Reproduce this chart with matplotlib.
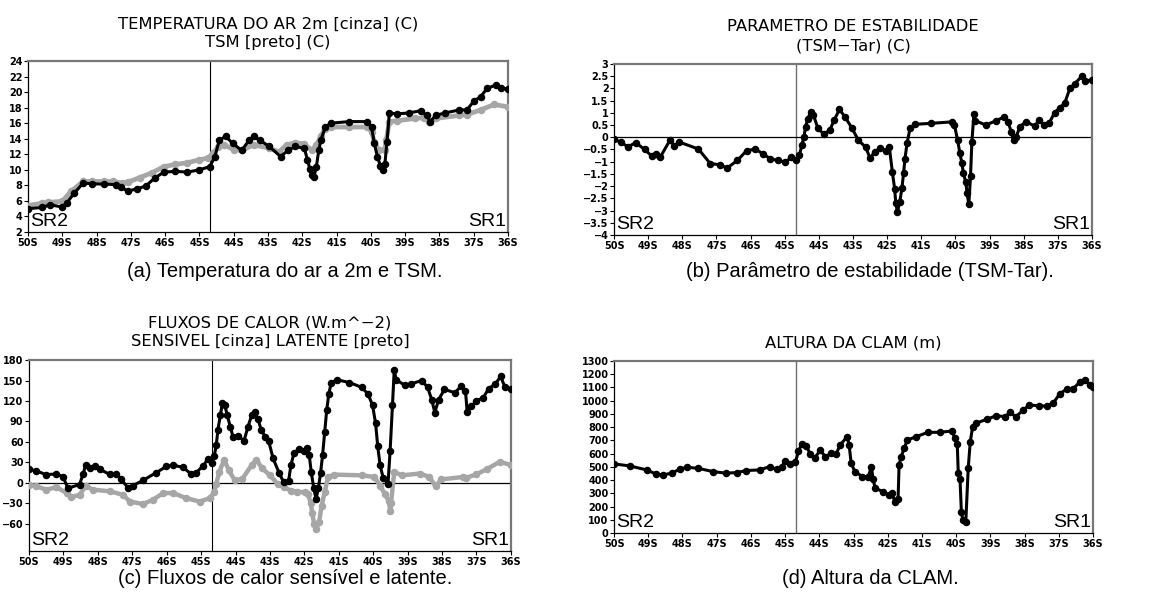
import matplotlib
matplotlib.use("Agg")
import matplotlib.pyplot as plt
from matplotlib.ticker import FuncFormatter

# limite entre as sub-regioes SR2 / SR1
limite_sr = -44.68

# (a) temperatura do ar 2m [cinza] e TSM [preto]
lat_tar = [-50.0, -49.6, -49.43, -49.0, -48.74, -48.39, -48.13, -47.78, -47.52, -47.26,
           -47.09, -46.74, -46.39, -46.04, -45.7, -45.35, -45.0, -44.74, -44.6, -44.46,
           -44.29, -44.0, -43.77, -43.42, -42.98, -42.68, -42.46, -42.2, -41.94, -41.72,
           -41.59, -41.46, -41.33, -41.16, -40.63, -40.1, -39.98, -39.9, -39.77, -39.6,
           -39.55, -39.46, -39.24, -38.72, -38.46, -38.29, -38.11, -37.42, -37.2, -36.8,
           -36.4, -36.0]
tar = [5.4, 5.7, 5.8, 5.95, 7.25, 8.5, 8.5, 8.5, 8.5, 8.3,
       8.4, 9.0, 9.6, 10.4, 10.7, 10.9, 11.3, 11.5, 12.2, 12.9,
       13.2, 12.6, 12.5, 13.2, 12.8, 12.3, 13.2, 13.5, 13.3, 12.5,
       13.2, 14.3, 15.3, 15.5, 15.5, 15.5, 14.9, 13.6, 12.5, 12.6,
       13.8, 16.2, 16.3, 16.6, 16.7, 16.1, 16.6, 17.0, 17.1, 17.7,
       18.4, 18.1]

lat_tsm = [-50.0, -49.6, -49.35, -49.0, -48.87, -48.65, -48.39, -48.13, -47.78, -47.43,
           -47.3, -47.09, -46.83, -46.57, -46.3, -46.04, -45.7, -45.35, -45.0, -44.7,
           -44.55, -44.42, -44.24, -44.03, -43.77, -43.55, -43.42, -43.24, -42.98, -42.63,
           -42.42, -42.2, -41.94, -41.85, -41.78, -41.72, -41.66, -41.59, -41.52, -41.46,
           -41.33, -41.16, -40.63, -40.1, -39.98, -39.9, -39.81, -39.72, -39.65, -39.59,
           -39.53, -39.46, -39.24, -38.9, -38.55, -38.37, -38.27, -38.11, -37.85, -37.42,
           -37.2, -37.0, -36.8, -36.6, -36.35, -36.2, -36.0]
tsm = [5.0, 5.15, 5.5, 5.2, 5.75, 7.0, 8.3, 8.2, 8.15, 8.1,
       7.8, 7.25, 7.55, 7.9, 8.95, 9.7, 9.8, 9.7, 10.0, 10.4,
       11.7, 13.8, 14.3, 13.4, 12.5, 13.8, 14.3, 13.8, 13.05, 11.7,
       12.5, 13.0, 12.75, 11.3, 10.1, 9.3, 9.1, 10.4, 12.5, 13.8,
       15.5, 16.0, 16.2, 16.2, 15.5, 13.4, 11.7, 10.5, 10.0, 10.8,
       13.6, 17.3, 17.2, 17.3, 17.6, 17.0, 16.2, 17.0, 17.3, 17.7,
       17.7, 18.8, 19.4, 20.5, 20.9, 20.5, 20.4]

# (b) parametro de estabilidade (TSM-Tar)
lat_est = [-50.0, -49.81, -49.59, -49.37, -49.1, -48.89, -48.77, -48.65, -48.36, -48.23,
           -48.1, -47.53, -47.18, -46.91, -46.69, -46.39, -46.12, -45.86, -45.64, -45.42,
           -45.2, -44.98, -44.81, -44.68, -44.57, -44.5, -44.44, -44.39, -44.33, -44.24,
           -44.16, -44.03, -43.85, -43.68, -43.55, -43.4, -43.24, -43.03, -42.85, -42.63,
           -42.5, -42.37, -42.2, -42.03, -41.94, -41.85, -41.78, -41.75, -41.7, -41.63,
           -41.57, -41.52, -41.48, -41.42, -41.33, -41.2, -40.72, -40.11, -40.03, -39.94,
           -39.87, -39.81, -39.77, -39.7, -39.66, -39.61, -39.56, -39.52, -39.46, -39.42,
           -39.11, -38.81, -38.59, -38.46, -38.37, -38.3, -38.22, -38.11, -37.94, -37.68,
           -37.55, -37.4, -37.25, -37.1, -36.95, -36.8, -36.65, -36.5, -36.3, -36.2, -36.0]
est = [-0.08, -0.2, -0.39, -0.22, -0.5, -0.78, -0.68, -0.82, -0.11, -0.37,
       -0.19, -0.48, -1.08, -1.12, -1.26, -0.95, -0.55, -0.48, -0.68, -0.88,
       -0.95, -1.02, -0.82, -0.95, -0.72, -0.32, 0.0, 0.44, 0.74, 1.05,
       0.91, 0.37, 0.12, 0.3, 0.71, 1.14, 0.84, 0.37, -0.11, -0.41,
       -0.86, -0.59, -0.45, -0.55, -0.38, -1.41, -2.13, -2.7, -3.05, -2.63,
       -2.09, -1.47, -0.89, -0.25, 0.37, 0.53, 0.57, 0.63, 0.5, -0.11,
       -0.66, -1.07, -1.47, -1.82, -2.29, -2.75, -1.6, -0.18, 0.95, 0.68,
       0.5, 0.68, 0.82, 0.64, 0.23, -0.11, 0.03, 0.44, 0.64, 0.46,
       0.7, 0.5, 0.6, 1.0, 1.2, 1.4, 2.0, 2.2, 2.5, 2.3, 2.35]

# (c) fluxos de calor: sensivel [cinza] e latente [preto]
lat_sen = [-50.0, -49.79, -49.5, -49.2, -48.9, -48.77, -48.53, -48.35, -48.14, -47.65,
           -47.27, -47.07, -46.69, -46.4, -46.1, -45.81, -45.43, -45.04, -44.75, -44.62,
           -44.56, -44.47, -44.33, -44.2, -44.02, -43.8, -43.53, -43.4, -43.22, -43.0,
           -42.78, -42.6, -42.38, -42.2, -41.98, -41.89, -41.82, -41.77, -41.72, -41.65,
           -41.57, -41.5, -41.41, -41.31, -41.13, -40.33, -39.97, -39.8, -39.66, -39.55,
           -39.5, -39.48, -39.39, -39.17, -38.64, -38.37, -38.19, -38.02, -37.39, -37.29,
           -37.0, -36.7, -36.32, -36.0]
sensivel = [-2.5, -5, -10, -6.5, -15, -21, -17.5, -5, -10, -12.5,
            -17.5, -27.5, -31, -25, -15, -15, -22.5, -27.5, -22.5, -14,
            -1.5, 16, 34, 19, 3.5, 6, 26, 34, 21, 11,
            -1.5, -6.5, -11.6, -13, -14, -17, -29, -44, -60, -67,
            -57, -34, -14, 8.6, 12, 11, 8.6, -4, -16.6, -27,
            -42, -29, 16, 11, 13.6, 8.6, -5, 5, 8.6, 7.5,
            12.5, 20, 31, 26]

lat_lat = [-50.0, -49.79, -49.5, -49.2, -49.01, -48.87, -48.53, -48.43, -48.35, -48.24,
           -48.09, -47.95, -47.66, -47.46, -47.32, -47.12, -46.98, -46.69, -46.3, -46.01,
           -45.81, -45.52, -45.28, -45.14, -44.94, -44.8, -44.68, -44.62, -44.56, -44.51,
           -44.44, -44.38, -44.31, -44.24, -44.15, -44.07, -43.93, -43.75, -43.64, -43.53,
           -43.44, -43.35, -43.25, -43.13, -43.04, -42.91, -42.73, -42.6, -42.46, -42.39,
           -42.3, -42.15, -42.02, -41.93, -41.86, -41.8, -41.73, -41.66, -41.59, -41.53,
           -41.47, -41.41, -41.35, -41.29, -41.22, -41.04, -40.69, -40.33, -40.15, -40.02,
           -39.93, -39.87, -39.8, -39.71, -39.57, -39.51, -39.44, -39.39, -39.33, -39.08,
           -38.91, -38.59, -38.42, -38.3, -38.21, -38.1, -37.93, -37.62, -37.45, -37.32,
           -37.27, -37.15, -37.0, -36.8, -36.65, -36.45, -36.3, -36.17, -36.0]
latente = [20, 17.5, 12, 13, 9, -8, -2.5, 12.5, 26.5, 21,
           25, 20, 12.5, 12.5, 5, -7.5, -4, 3.5, 15, 24,
           26, 22.5, 12.5, 15, 25, 35, 29, 39, 55, 78,
           99, 117, 114, 99, 82, 67, 68, 62, 82, 99,
           104, 94, 77, 67, 62, 36, 14, 1, 2, 26,
           44, 49, 46, 51, 41, 16, -7, -24, -7, 14,
           41, 74, 107, 130, 147, 151, 147, 140, 130, 114,
           87, 54, 26, 7, -1.5, 46, 114, 165, 151, 143,
           145, 150, 140, 122, 103, 122, 137, 132, 142, 135,
           104, 112, 120, 125, 138, 145, 156, 140, 137]

# (d) altura da CLAM (m)
lat_clam = [-50.0, -49.54, -49.05, -48.76, -48.57, -48.32, -48.08, -47.88, -47.54, -47.11,
            -46.72, -46.42, -46.13, -45.74, -45.45, -45.25, -45.1, -45.0, -44.85, -44.7,
            -44.61, -44.52, -44.39, -44.26, -44.13, -43.97, -43.83, -43.65, -43.52, -43.39,
            -43.19, -43.13, -43.07, -42.96, -42.74, -42.57, -42.48, -42.43, -42.37, -42.13,
            -41.96, -41.87, -41.8, -41.7, -41.67, -41.61, -41.52, -41.43, -41.17, -40.83,
            -40.48, -40.13, -40.04, -39.97, -39.94, -39.89, -39.85, -39.81, -39.72, -39.65,
            -39.59, -39.52, -39.43, -39.09, -38.83, -38.57, -38.43, -38.26, -38.04, -37.87,
            -37.57, -37.36, -37.16, -36.97, -36.77, -36.58, -36.38, -36.24, -36.09, -36.0]
clam = [522, 507, 477, 444, 439, 452, 482, 497, 489, 464,
        452, 457, 472, 477, 502, 480, 500, 545, 520, 535,
        620, 670, 660, 594, 569, 627, 577, 602, 594, 665,
        728, 665, 526, 463, 426, 426, 501, 408, 338, 312,
        287, 300, 237, 254, 514, 577, 640, 703, 728, 761,
        761, 771, 720, 670, 451, 408, 161, 98, 86, 489,
        690, 804, 829, 861, 887, 879, 912, 879, 929, 967,
        962, 959, 984, 1054, 1087, 1092, 1142, 1154, 1117, 1104]

CINZA = "#a6a6a6"
fonte_eixo = ["Liberation Sans Narrow", "DejaVu Sans"]


def desenha_serie(ax, x, y, cor, lw=2.2):
    ax.plot(x, y, color=cor, lw=lw, marker="o", ms=4.4, mec=cor, mfc=cor,
            solid_capstyle="round", solid_joinstyle="round", zorder=3)


def prepara_eixo(ax, titulo, ylim, yticks, zero=False, cor_vert="black"):
    ax.set_xlim(-50, -36)
    ax.set_ylim(*ylim)
    ax.set_xticks(range(-50, -35))
    ax.set_yticks(yticks)
    ax.xaxis.set_major_formatter(FuncFormatter(lambda v, p: f"{abs(round(v))}S"))
    ax.yaxis.set_major_formatter(FuncFormatter(lambda v, p: f"{v:g}".replace("-", "\u2212")))
    ax.tick_params(direction="out", length=3, width=0.8, labelsize=7, pad=1)
    for lab in ax.get_xticklabels() + ax.get_yticklabels():
        lab.set_family(fonte_eixo)
        lab.set_weight("bold")
    for lado in ("left", "bottom"):
        ax.spines[lado].set_color("black")
        ax.spines[lado].set_linewidth(0.9)
    for lado in ("top", "right"):
        ax.spines[lado].set_color("#777777")
        ax.spines[lado].set_linewidth(1.6)
    ax.axvline(limite_sr, color=cor_vert, lw=1.0 if cor_vert != "black" else 0.8, zorder=2)
    if zero:
        ax.axhline(0, color="black", lw=0.9, zorder=2)
    ax.set_title(titulo, fontsize=11.8, family="DejaVu Sans", linespacing=1.3, pad=10)
    ax.text(0.004, 0.01, "SR2", transform=ax.transAxes, fontsize=14,
            family="Liberation Sans", ha="left", va="bottom", zorder=5)
    ax.text(0.996, 0.01, "SR1", transform=ax.transAxes, fontsize=14,
            family="Liberation Sans", ha="right", va="bottom", zorder=5)


fig = plt.figure(figsize=(11.63, 5.93), dpi=100)

ax_a = fig.add_axes([0.0241, 0.6088, 0.4127, 0.2884])
ax_b = fig.add_axes([0.5280, 0.6037, 0.4110, 0.2884])
ax_c = fig.add_axes([0.0249, 0.0708, 0.4144, 0.3220])
ax_d = fig.add_axes([0.5280, 0.1012, 0.4119, 0.2900])

# painel (a)
prepara_eixo(ax_a, "TEMPERATURA DO AR 2m [cinza] (C)\nTSM [preto] (C)",
             (2, 24), range(2, 25, 2))
desenha_serie(ax_a, lat_tar, tar, CINZA, lw=3.4)
desenha_serie(ax_a, lat_tsm, tsm, "black")

# painel (b)
prepara_eixo(ax_b, "PARAMETRO DE ESTABILIDADE\n(TSM\u2212Tar) (C)",
             (-4, 3), [v / 2 for v in range(-8, 7)], zero=True, cor_vert="#6e6e6e")
desenha_serie(ax_b, lat_est, est, "black")

# painel (c)
prepara_eixo(ax_c, "FLUXOS DE CALOR (W.m^\u22122)\nSENSIVEL [cinza] LATENTE [preto]",
             (-100, 180), range(-60, 181, 30), zero=True)
desenha_serie(ax_c, lat_sen, sensivel, CINZA, lw=3.2)
desenha_serie(ax_c, lat_lat, latente, "black")

# painel (d)
prepara_eixo(ax_d, "ALTURA DA CLAM (m)", (0, 1300), range(0, 1301, 100),
             cor_vert="#6e6e6e")
desenha_serie(ax_d, lat_clam, clam, "black")

# legendas das figuras
legendas = [
    (0.245, 0.543, "(a) Temperatura do ar a 2m e TSM."),
    (0.748, 0.543, "(b) Par\u00e2metro de estabilidade (TSM-Tar)."),
    (0.245, 0.024, "(c) Fluxos de calor sens\u00edvel e latente."),
    (0.748, 0.024, "(d) Altura da CLAM."),
]
for x, y, txt in legendas:
    fig.text(x, y, txt, ha="center", va="center", fontsize=14.5, family="Liberation Sans")

fig.savefig("out.png", dpi=100)
